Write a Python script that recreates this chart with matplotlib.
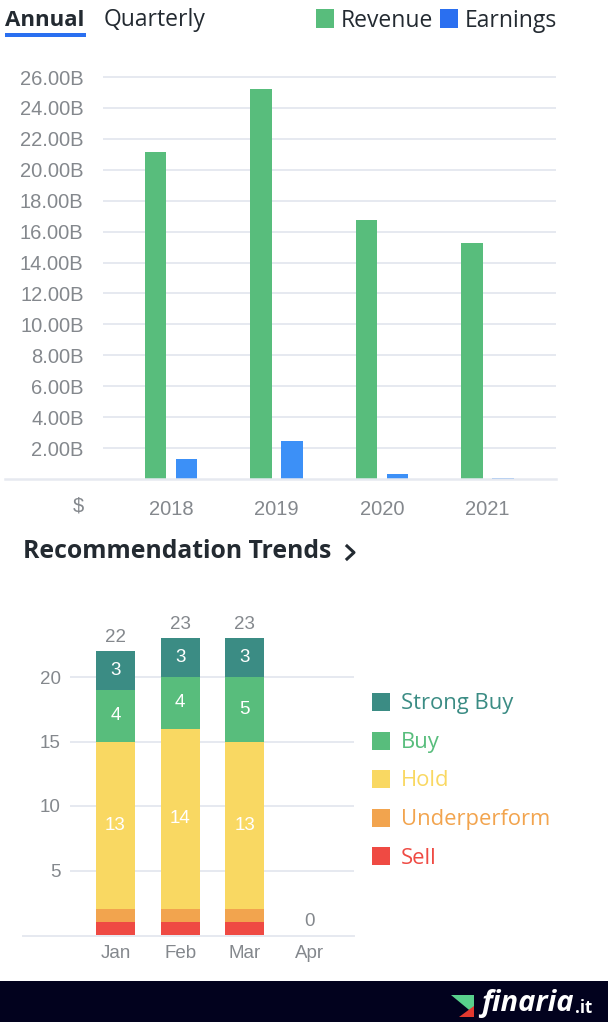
# Revenue / earnings bars and recommendation trends, finaria style

import matplotlib
matplotlib.use('Agg')
import matplotlib.pyplot as plt
from matplotlib import patches

W, H = 609, 1024

years = ['2018', '2019', '2020', '2021']
revenue = [21.15, 25.2, 16.75, 15.27]
earnings = [1.3, 2.45, 0.35, 0.07]
money_ticks = [2, 4, 6, 8, 10, 12, 14, 16, 18, 20, 22, 24, 26]

months = ['Jan', 'Feb', 'Mar', 'Apr']
sell = [1, 1, 1, 0]
underperform = [1, 1, 1, 0]
hold = [13, 14, 13, 0]
buy = [4, 4, 5, 0]
strong_buy = [3, 3, 3, 0]
totals = [22, 23, 23, 0]
rec_ticks = [5, 10, 15, 20]

GREEN = '#58bd7c'
BLUE = '#3c90f7'
LEGEND_BLUE = '#2a6ff0'
TEAL = '#3b8c84'
YELLOW = '#f9d862'
ORANGE = '#f2a44e'
RED = '#ef4a43'
GRID = '#e6e9f0'
GREY = '#84888d'
DARK = '#232a31'
UI_FONT = ['Open Sans', 'DejaVu Sans']

plt.rcParams['font.family'] = ['Liberation Sans', 'DejaVu Sans']


def px_axes(fig, left, top, right, bottom):
    """Axes placed with pixel edges, measured from the top left"""
    return fig.add_axes([left/W, 1 - bottom/H, (right - left)/W, (bottom - top)/H])


def clean(ax, ticks, labels, ypad, size):
    for s in ax.spines.values():
        s.set_visible(False)
    ax.set_yticks(ticks, labels)
    ax.tick_params(length=0, labelcolor=GREY, labelsize=size)
    ax.tick_params(axis='y', pad=ypad)
    ax.grid(axis='y', color=GRID, lw=1.4)
    ax.set_axisbelow(True)


fig = plt.figure(figsize=(W/100, H/100), dpi=100)

# overlay in pixel coordinates for the page furniture
page = fig.add_axes([0, 0, 1, 1], zorder=5)
page.set_xlim(0, W)
page.set_ylim(H, 0)
page.axis('off')

# top chart
ax = px_axes(fig, 103, 60, 556, 479)
ax.set_xlim((103 - 171)/105.5, (556 - 171)/105.5)
ax.set_ylim(0, 419/15.46)
ax.bar([i - 0.147 for i in range(4)], revenue, 0.205, color=GREEN)
ax.bar([i + 0.147 for i in range(4)], earnings, 0.205, color=BLUE)
clean(ax, money_ticks, ['%.2fB' % v for v in money_ticks], 14, 14.5)
ax.set_xticks(range(4), years)
ax.tick_params(axis='x', pad=15)
page.plot([5, 556], [479, 479], color=GRID, lw=1.8)
page.text(78, 506, '$', color=GREY, fontsize=14.5, ha='center', va='center')

# tabs and legend
page.text(5, 20, 'Annual', color=DARK, fontsize=16, fontweight='bold',
          family=UI_FONT, va='center')
page.text(104, 20, 'Quarterly', color=DARK, fontsize=16.5, family=UI_FONT, va='center')
page.add_patch(patches.Rectangle((5, 33), 81, 3.5, color='#2a6ff0', lw=0))
page.add_patch(patches.Rectangle((316, 9), 18, 19, color=GREEN, lw=0))
page.add_patch(patches.Rectangle((440, 9), 18, 19, color=LEGEND_BLUE, lw=0))
page.text(341, 21, 'Revenue', color=DARK, fontsize=16.5, family=UI_FONT, va='center')
page.text(465, 21, 'Earnings', color=DARK, fontsize=16.5, family=UI_FONT, va='center')

# section title
page.text(23, 552, 'Recommendation Trends', color=DARK, fontsize=17.8, fontweight='bold',
          family=UI_FONT, va='center')
page.plot([347, 354, 347], [546, 552.5, 559], color=DARK, lw=2.2)

# bottom chart
ax2 = px_axes(fig, 70, 625, 354, 935)
ax2.set_xlim((70 - 115.5)/64.7, (354 - 115.5)/64.7)
ax2.set_ylim(0, 310/12.9)
bottom = [0, 0, 0, 0]
for values, color, text_color in [(sell, RED, None), (underperform, ORANGE, None),
                                  (hold, YELLOW, 'white'), (buy, GREEN, 'white'),
                                  (strong_buy, TEAL, 'white')]:
    ax2.bar(range(4), values, 0.6, bottom=bottom, color=color)
    if text_color:
        for i, v in enumerate(values):
            if v:
                ax2.text(i, bottom[i] + v/2, str(v), color=text_color, fontsize=13.5,
                         ha='center', va='center')
    bottom = [b + v for b, v in zip(bottom, values)]
for i, t in enumerate(totals):
    ax2.text(i, t + 0.42, str(t), color=GREY, fontsize=13.5, ha='center', va='bottom')
clean(ax2, rec_ticks, [str(v) for v in rec_ticks], 6.5, 13.5)
ax2.set_xticks(range(4), months)
ax2.tick_params(axis='x', pad=7.5)
page.plot([23, 354], [935.5, 935.5], color=GRID, lw=1.4)

# recommendation legend
legend_names = ['Strong Buy', 'Buy', 'Hold', 'Underperform', 'Sell']
legend_colors = [TEAL, GREEN, YELLOW, ORANGE, RED]
for i, (name, color) in enumerate(zip(legend_names, legend_colors)):
    y = 702 + i*38.5
    page.add_patch(patches.Rectangle((372, y - 9), 18, 18, color=color, lw=0))
    page.text(401, y + 2, name, color=color, fontsize=15.8, family=UI_FONT, va='center')

# footer band with logo
page.add_patch(patches.Rectangle((0, 981), 608, 41, color='#02021e', lw=0))
page.add_patch(patches.Polygon([(451, 995), (474, 995), (474, 1014)], color='#58d08c', lw=0))
page.add_patch(patches.Polygon([(459, 1017), (474, 1006), (474, 1017)], color='#e2392f', lw=0))
page.text(481, 1003, 'finaria', color='white', fontsize=21, fontweight='bold', style='italic',
          family=UI_FONT, va='center')
page.text(575, 1008, '.it', color='white', fontsize=12, fontweight='bold',
          family=UI_FONT, va='center')

fig.savefig('out.png', dpi=100)
